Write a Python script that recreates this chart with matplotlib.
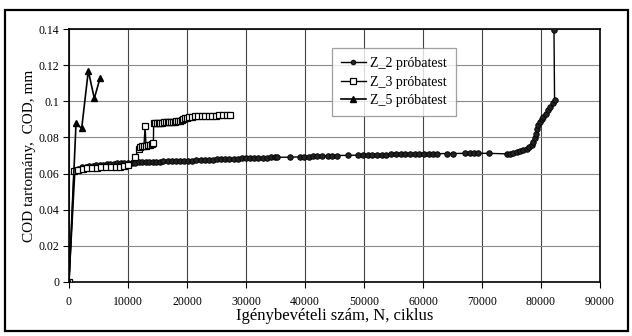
import matplotlib
matplotlib.use("Agg")
import matplotlib.pyplot as plt
from matplotlib.patches import Rectangle
from matplotlib.ticker import FuncFormatter

plt.rcParams["font.family"] = ["Liberation Serif", "DejaVu Serif"]

# Z_2 probatest (filled circles)
z2_n = [0, 1020, 1600, 2200, 2800, 3400, 4000, 4600, 5200, 5800, 6400, 7000,
        7600, 8200, 8800, 9400, 10000, 10600, 11200, 11800, 12400, 13000,
        13600, 14200, 14800, 15400, 16000, 16700, 17400, 18100, 18800, 19500,
        20200, 20900, 21600, 22300, 23000, 23700, 24400, 25100, 25800, 26500,
        27200, 27900, 28600, 29300, 30000, 30700, 31400, 32100, 32800, 33500,
        34200, 34900, 35300, 37500, 39200, 39900, 40600, 41300, 42000, 42800,
        43900, 44600, 45400, 47300, 49000, 49800, 50600, 51400, 52200, 53000,
        53800, 54600, 55400, 56200, 57000, 57800, 58600, 59400, 60200, 61000,
        61700, 62400, 64100, 65100, 67100, 68000, 68600, 69300, 71200, 74200,
        74700, 75300, 75900, 76400, 77000, 77600, 78000, 78400, 78700, 79000,
        79150, 79300, 79550, 79800, 80100, 80400, 80800, 81200, 81600, 82000,
        82300, 82200]
z2_cod = [0.0, 0.0620, 0.0628, 0.0634, 0.0638, 0.0641, 0.0644, 0.0646, 0.0648,
          0.0650, 0.0652, 0.0654, 0.0655, 0.0656, 0.0657, 0.0658, 0.0659,
          0.0660, 0.0661, 0.0662, 0.0663, 0.0664, 0.0665, 0.0665, 0.0666,
          0.0666, 0.0667, 0.0668, 0.0669, 0.0669, 0.0670, 0.0671, 0.0672,
          0.0672, 0.0673, 0.0674, 0.0675, 0.0676, 0.0677, 0.0678, 0.0679,
          0.0680, 0.0681, 0.0682, 0.0683, 0.0684, 0.0684, 0.0685, 0.0686,
          0.0687, 0.0688, 0.0688, 0.0689, 0.0690, 0.0690, 0.0691, 0.0692,
          0.0693, 0.0694, 0.0695, 0.0696, 0.0697, 0.0698, 0.0699, 0.0700,
          0.0701, 0.0702, 0.0703, 0.0703, 0.0704, 0.0704, 0.0705, 0.0705,
          0.0706, 0.0706, 0.0707, 0.0707, 0.0708, 0.0708, 0.0709, 0.0709,
          0.0710,
          0.0710, 0.0710, 0.0711, 0.0711, 0.0712, 0.0712, 0.0712, 0.0712,
          0.0712, 0.0709, 0.0710, 0.0713, 0.0718, 0.0724, 0.0730, 0.0736,
          0.0745, 0.0758, 0.0775, 0.0795, 0.0820, 0.0845, 0.0870, 0.0885,
          0.0900, 0.0915, 0.0930, 0.0950, 0.0970, 0.0990, 0.1007, 0.1394]

# Z_3 probatest (open squares)
z3_n = [0, 850, 1500, 2300, 3100, 3900, 4700, 5500, 6300, 7100, 7900, 8600,
        9300, 10000, 11200, 11800, 12100, 12400, 12700, 12900, 13050, 13400,
        13700, 14000, 14300, 14350, 14600, 14900, 15200, 15500, 15800, 16100,
        16400, 16700, 17000, 17300, 17600, 17900, 18200, 18500, 18800, 19100,
        19400, 19700, 20000, 20400, 20800, 21300, 21900, 22500, 23100, 23700,
        24300, 24900, 25500, 26100, 26700, 27300]
z3_cod = [0.0, 0.0615, 0.0622, 0.0626, 0.0629, 0.0631, 0.0633, 0.0634, 0.0635,
          0.0636, 0.0637, 0.0638, 0.0640, 0.0645, 0.0690, 0.0735, 0.0745,
          0.0750, 0.0752, 0.0863, 0.0755, 0.0758, 0.0760, 0.0763, 0.0767,
          0.0878, 0.0878, 0.0879, 0.0880, 0.0881, 0.0882, 0.0883, 0.0883,
          0.0884, 0.0885, 0.0886, 0.0887, 0.0888, 0.0889, 0.0890, 0.0892,
          0.0896, 0.0900, 0.0905, 0.0908, 0.0911, 0.0914, 0.0916, 0.0918,
          0.0919, 0.0920, 0.0920, 0.0921, 0.0921, 0.0922, 0.0922, 0.0923,
          0.0922]

# Z_5 probatest (filled triangles)
z5_n = [0, 1190, 2150, 3270, 4290, 5250]
z5_cod = [0.0, 0.0878, 0.0850, 0.1168, 0.1016, 0.1127]

x_ticks = [0, 10000, 20000, 30000, 40000, 50000, 60000, 70000, 80000, 90000]
y_ticks = [0, 0.02, 0.04, 0.06, 0.08, 0.1, 0.12, 0.14]

fig = plt.figure(figsize=(6.32, 3.36), dpi=100)
ax = fig.add_axes([69 / 632, 1 - 282 / 336, 531 / 632, 253 / 336])

fig.patches.append(Rectangle((5 / 632, 1 - 331 / 336), 623 / 632, 321 / 336,
                             transform=fig.transFigure, fill=False,
                             edgecolor="black", linewidth=1.6))

ax.plot(z2_n, z2_cod, "-o", color="black", lw=1.0, ms=4.0,
        markerfacecolor="#222222", markeredgecolor="black", markeredgewidth=0.6,
        label="Z_2 próbatest", zorder=3)
ax.plot(z3_n, z3_cod, "-s", color="black", lw=1.0, ms=4.6,
        markerfacecolor="white", markeredgecolor="black", markeredgewidth=0.9,
        label="Z_3 próbatest", zorder=4)
ax.plot(z5_n, z5_cod, "-^", color="black", lw=1.2, ms=5,
        markerfacecolor="black", markeredgecolor="black",
        label="Z_5 próbatest", zorder=5)

ax.set_xlim(0, 90000)
ax.set_ylim(0, 0.14)
ax.set_xticks(x_ticks)
ax.set_yticks(y_ticks)
ax.yaxis.set_major_formatter(FuncFormatter(lambda v, p: f"{v:g}"))
ax.tick_params(axis="x", direction="out", length=4, width=0.8, pad=6, labelsize=8.5)
ax.tick_params(axis="y", direction="out", length=4, width=0.8, pad=3, labelsize=8.5)

ax.xaxis.grid(True, color="#444444", lw=0.8)
ax.yaxis.grid(True, color="#8a8a8a", lw=0.8)
ax.set_axisbelow(True)
for s in ax.spines.values():
    s.set_linewidth(1.2)
    s.set_color("black")

ax.set_xlabel("Igénybevételi szám, N, ciklus", fontsize=12, labelpad=0)
ax.set_ylabel("COD tartomány,  COD, mm", fontsize=11, labelpad=2)

leg = ax.legend(loc="upper left", bbox_to_anchor=(0.495, 0.925), fontsize=10,
                frameon=True, fancybox=False, edgecolor="#888888",
                handlelength=1.8, labelspacing=0.4, borderpad=0.65,
                handletextpad=0.3, borderaxespad=0, markerscale=0.85)
leg.get_frame().set_linewidth(0.9)

fig.savefig("out.png", dpi=100)
